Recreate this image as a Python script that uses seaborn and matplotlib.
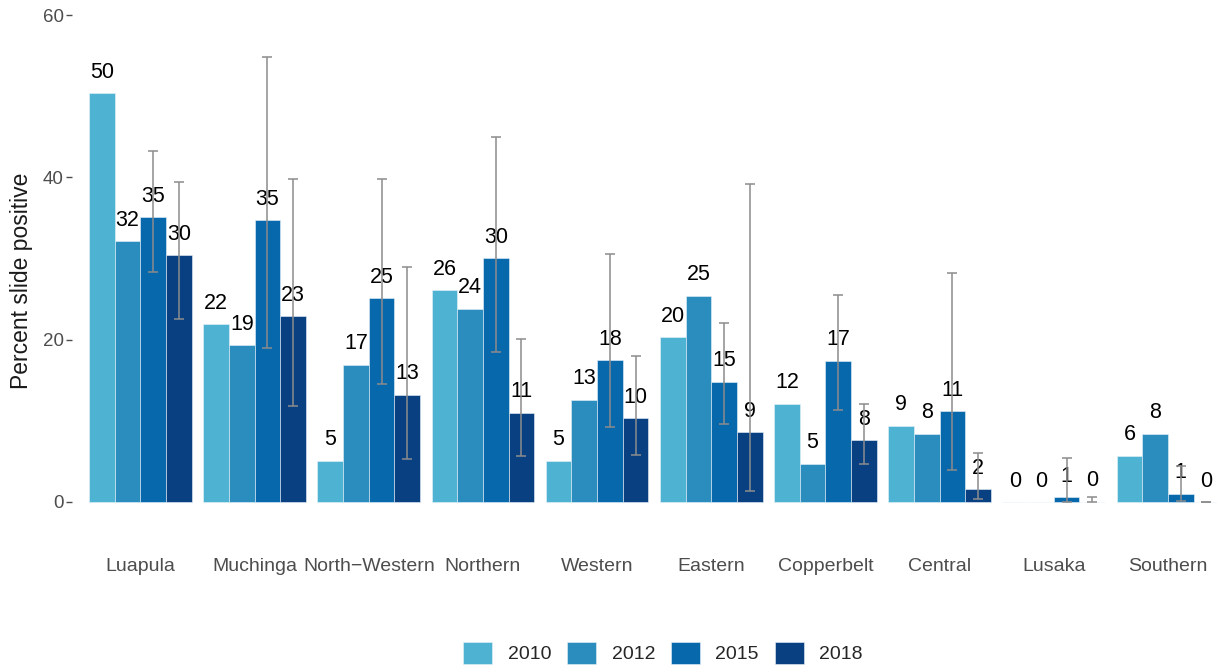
import numpy as np
import pandas as pd
import matplotlib
matplotlib.use('Agg')
import matplotlib.pyplot as plt
import seaborn as sns

# data
regions = ['Luapula', 'Muchinga', 'North\u2212Western', 'Northern', 'Western',
           'Eastern', 'Copperbelt', 'Central', 'Lusaka', 'Southern']
years = ['2010', '2012', '2015', '2018']

v2010 = [50.4, 21.9, 5.1, 26.1, 5.1, 20.3, 12.1, 9.4, 0.0, 5.7]
v2012 = [32.1, 19.3, 16.9, 23.8, 12.6, 25.4, 4.7, 8.4, 0.0, 8.4]
v2015 = [35.1, 34.7, 25.1, 30.0, 17.5, 14.8, 17.4, 11.2, 0.6, 1.0]
v2018 = [30.4, 22.9, 13.2, 11.0, 10.3, 8.6, 7.6, 1.6, 0.05, 0.0]

# confidence intervals (only 2015 and 2018 have them)
lo2015 = [28.3, 19.0, 14.5, 18.5, 9.2, 9.6, 11.3, 3.9, 0.0, 0.1]
hi2015 = [43.2, 54.8, 39.8, 45.0, 30.5, 22.0, 25.5, 28.2, 5.4, 4.4]
lo2018 = [22.5, 11.8, 5.3, 5.7, 5.8, 1.4, 4.7, 0.4, 0.0, 0.0]
hi2018 = [39.4, 39.8, 28.9, 20.1, 18.0, 39.2, 12.1, 6.0, 0.6, 0.0]

colors = ['#4EB3D3', '#2B8CBE', '#0868AC', '#084081']

values = {'2010': v2010, '2012': v2012, '2015': v2015, '2018': v2018}
ci = {'2015': (lo2015, hi2015), '2018': (lo2018, hi2018)}

rows = []
for yr in years:
    for reg, val in zip(regions, values[yr]):
        rows.append({'region': reg, 'year': yr, 'value': val})
df = pd.DataFrame(rows)

sns.set_style('white')
plt.rcParams['font.family'] = ['Liberation Sans', 'DejaVu Sans']

fig = plt.figure(figsize=(12.17, 6.69), dpi=100)
ax = fig.add_axes([72 / 1217, 1 - 548 / 669, 1 - 72 / 1217, 548 / 669])

sns.barplot(data=df, x='region', y='value', hue='year', order=regions,
            hue_order=years, palette=colors, saturation=1, width=0.9,
            errorbar=None, edgecolor='#e8f2f8', linewidth=0.4, ax=ax)

for cont, yr in zip(ax.containers, years):
    labs = [str(int(round(v))) for v in values[yr]]
    ax.bar_label(cont, labels=labs, padding=7.5, fontsize=15.5, color='black')
    if yr in ci:
        lo, hi = ci[yr]
        xs = [b.get_x() + b.get_width() / 2 for b in cont]
        mid = (np.array(lo) + np.array(hi)) / 2
        err = [mid - np.array(lo), np.array(hi) - mid]
        ax.errorbar(xs, mid, yerr=err, fmt='none', ecolor='#8c8c8c',
                    elinewidth=1.1, capsize=3.5, capthick=1.1, zorder=5)

ax.set_xlim(-0.6, 9.43)
ax.set_ylim(-5.67, 61.85)
ax.set_yticks([0, 20, 40, 60])
ax.tick_params(axis='y', length=4, width=1, color='#4d4d4d', labelsize=13.5,
               labelcolor='#4d4d4d', pad=2, left=True)
ax.tick_params(axis='x', length=0, labelsize=14, labelcolor='#4d4d4d', pad=7)
ax.set_xlabel('')
ax.set_ylabel('Percent slide positive', fontsize=16.5, color='#1a1a1a')
ax.yaxis.set_label_coords(-0.034, 0.487)
for s in ax.spines.values():
    s.set_visible(False)

ax.legend(loc='center', bbox_to_anchor=(663 / 1217, 1 - 653 / 669),
          bbox_transform=fig.transFigure, ncol=4, frameon=False, title=None,
          fontsize=14, handlelength=1.5, handleheight=1.4,
          handletextpad=0.8, columnspacing=0.8)

fig.savefig('out.png', dpi=100)
